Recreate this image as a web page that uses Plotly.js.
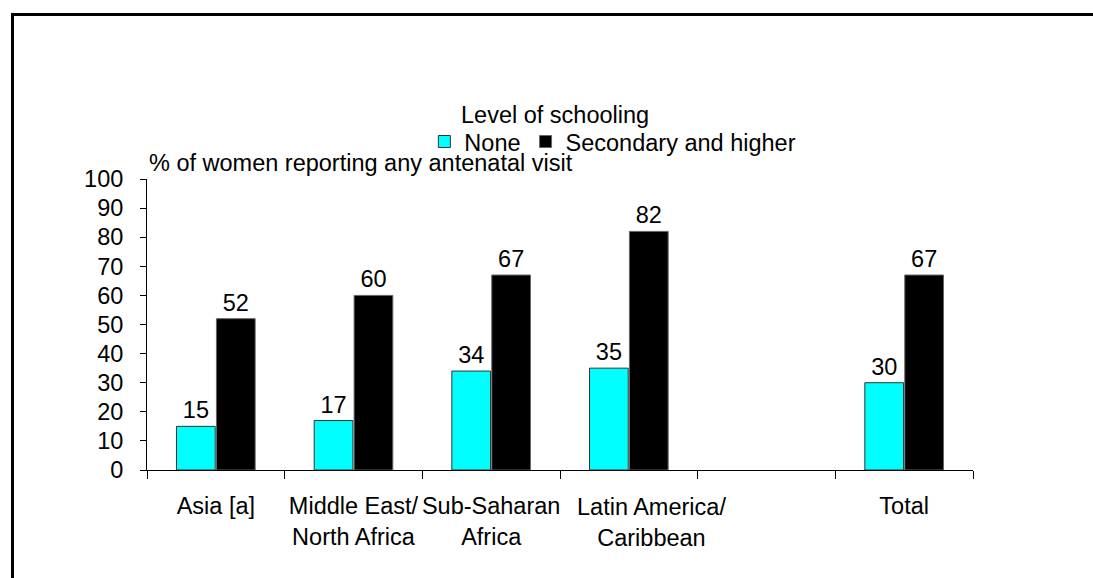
<!DOCTYPE html>
<html>
<head>
<meta charset="utf-8">
<script src="https://cdn.plot.ly/plotly-3.0.1.min.js"></script>
<style>
  html, body { margin: 0; padding: 0; background: #fff; }
  #wrap { position: relative; width: 1093px; height: 578px; overflow: hidden; }
  #chart { width: 1093px; height: 578px; }
  #frame { position: absolute; left: 11px; top: 13px; width: 1200px; height: 700px;
           border-top: 3px solid #000; border-left: 3px solid #000; pointer-events: none; }
</style>
</head>
<body>
<div id="wrap">
  <div id="chart"></div>
  <div id="frame"></div>
</div>
<script>
const categories = ['Asia [a]', 'Middle East/<br>North Africa', 'Sub-Saharan<br>Africa', 'Latin America/<br>Caribbean', ' ', 'Total'];
const noneValues = [15, 17, 34, 35, null, 30];
const secondaryValues = [52, 60, 67, 82, null, 67];
const seriesNames = ['None', 'Secondary and higher'];
const yTickVals = [0, 10, 20, 30, 40, 50, 60, 70, 80, 90, 100];

const FONT = 'Liberation Sans, Arial, sans-serif';
const FS = 23.5;

// the 4th category label is drawn nudged right (as in the original) via an annotation
const shiftedIdx = 3;
const tickText = categories.map((c, i) => i === shiftedIdx ? '' : c);

const traces = [
  {
    type: 'bar', name: seriesNames[0], x: categories, y: noneValues,
    marker: { color: '#00FFFF', line: { color: '#333333', width: 1 } },
    texttemplate: '%{y}', textposition: 'outside', cliponaxis: false,
    textfont: { family: FONT, size: FS, color: '#000' }
  },
  {
    type: 'bar', name: seriesNames[1], x: categories, y: secondaryValues,
    marker: { color: '#000000', line: { color: '#666666', width: 1 } },
    texttemplate: '%{y}', textposition: 'outside', cliponaxis: false,
    textfont: { family: FONT, size: FS, color: '#000' }
  }
];

const layout = {
  width: 1093, height: 578,
  margin: { l: 147, r: 120, t: 179, b: 108 },
  paper_bgcolor: '#fff', plot_bgcolor: '#fff',
  font: { family: FONT, size: FS, color: '#000' },
  barmode: 'group', bargap: 0.42, bargroupgap: 0.03,
  showlegend: true,
  legend: {
    orientation: 'h', x: 0.564, xanchor: 'center', y: 1.128, yanchor: 'middle',
    font: { family: FONT, size: FS, color: '#000' }, itemwidth: 30, traceorder: 'normal',
    bgcolor: 'rgba(0,0,0,0)'
  },
  xaxis: {
    type: 'category', categoryarray: categories, tickmode: 'array', tickvals: categories, ticktext: tickText,
    tickson: 'boundaries', ticks: 'outside', ticklen: 8, tickcolor: '#000',
    showline: true, linecolor: '#000', linewidth: 1, showgrid: false, zeroline: false,
    tickangle: 0, ticklabelstandoff: 15, fixedrange: true
  },
  yaxis: {
    range: [0, 100], tickvals: yTickVals, ticks: 'outside', ticklen: 6, tickcolor: '#000',
    showline: true, linecolor: '#000', linewidth: 1, showgrid: false, zeroline: false,
    ticklabelstandoff: 12, fixedrange: true
  },
  annotations: [
    { text: 'Level of schooling', xref: 'paper', yref: 'paper', x: 0.494, y: 1.22,
      xanchor: 'center', yanchor: 'middle', showarrow: false, font: { family: FONT, size: FS, color: '#000' } },
    { text: '% of women reporting any antenatal visit', xref: 'paper', yref: 'paper', x: 0, y: 1.054,
      xanchor: 'left', yanchor: 'middle', showarrow: false, font: { family: FONT, size: FS, color: '#000' } },
    { text: categories[shiftedIdx], xref: 'x', yref: 'y', x: categories[shiftedIdx], y: 0,
      xanchor: 'center', yanchor: 'top', xshift: 23, yshift: -22, align: 'center', showarrow: false,
      font: { family: FONT, size: FS, color: '#000' } }
  ]
};

Plotly.newPlot('chart', traces, layout, { displayModeBar: false, staticPlot: true });
</script>
</body>
</html>
